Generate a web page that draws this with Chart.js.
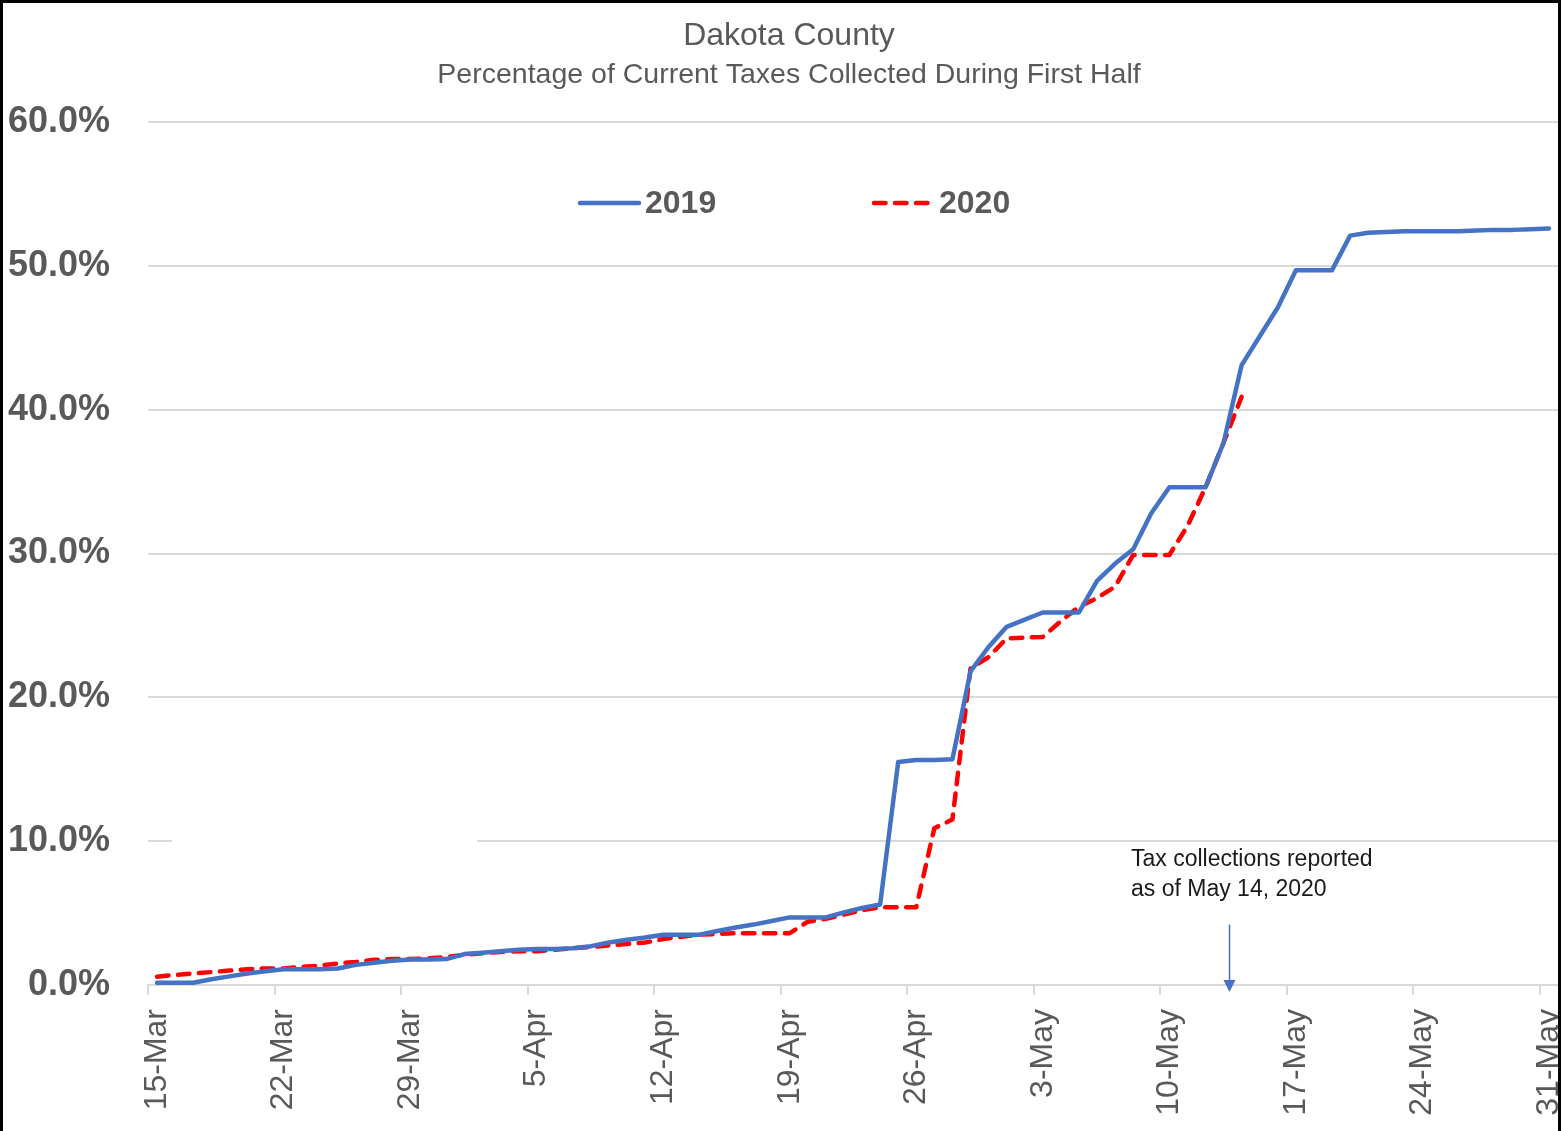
<!DOCTYPE html>
<html>
<head>
<meta charset="utf-8">
<script src="https://cdn.jsdelivr.net/npm/chart.js@4.4.1/dist/chart.umd.min.js"></script>
<style>
  body { margin: 0; background: #fff; }
  #wrap { position: relative; width: 1561px; height: 1131px; overflow: hidden; }
  #frame { position: absolute; left: 0; top: 0; width: 1561px; height: 1131px; box-sizing: border-box;
           border: 3px solid #000; border-bottom: none; pointer-events: none; }
</style>
</head>
<body>
<div id="wrap">
  <canvas id="myChart" width="1561" height="1131"></canvas>
  <div id="frame"></div>
</div>
<script>
// days from 15-Mar to 31-May
var days = [
    '15-Mar', '16-Mar', '17-Mar', '18-Mar', '19-Mar', '20-Mar', '21-Mar',
    '22-Mar', '23-Mar', '24-Mar', '25-Mar', '26-Mar', '27-Mar', '28-Mar',
    '29-Mar', '30-Mar', '31-Mar', '1-Apr', '2-Apr', '3-Apr', '4-Apr',
    '5-Apr', '6-Apr', '7-Apr', '8-Apr', '9-Apr', '10-Apr', '11-Apr',
    '12-Apr', '13-Apr', '14-Apr', '15-Apr', '16-Apr', '17-Apr', '18-Apr',
    '19-Apr', '20-Apr', '21-Apr', '22-Apr', '23-Apr', '24-Apr', '25-Apr',
    '26-Apr', '27-Apr', '28-Apr', '29-Apr', '30-Apr', '1-May', '2-May',
    '3-May', '4-May', '5-May', '6-May', '7-May', '8-May', '9-May',
    '10-May', '11-May', '12-May', '13-May', '14-May', '15-May', '16-May',
    '17-May', '18-May', '19-May', '20-May', '21-May', '22-May', '23-May',
    '24-May', '25-May', '26-May', '27-May', '28-May', '29-May', '30-May',
    '31-May'
];

var seriesNames = ['2019', '2020'];

// percent collected, 2019
var pct2019 = [
    0.16, 0.16, 0.16, 0.40, 0.60, 0.80, 0.95,
    1.10, 1.10, 1.10, 1.15, 1.40, 1.55, 1.68,
    1.78, 1.78, 1.80, 2.15, 2.25, 2.35, 2.45,
    2.50, 2.50, 2.55, 2.70, 2.95, 3.15, 3.30,
    3.50, 3.50, 3.50, 3.75, 4.00, 4.20, 4.45,
    4.70, 4.70, 4.70, 5.05, 5.35, 5.60, 15.50,
    15.65, 15.65, 15.70, 21.80, 23.50, 24.90, 25.40,
    25.90, 25.90, 25.90, 28.10, 29.30, 30.30, 32.80,
    34.60, 34.60, 34.60, 37.70, 43.10, 45.10, 47.10,
    49.70, 49.70, 49.70, 52.10, 52.30, 52.35, 52.40,
    52.40, 52.40, 52.40, 52.45, 52.50, 52.50, 52.55,
    52.60
];

// percent collected, 2020 (reported through May 14)
var pct2020 = [
    0.58, 0.70, 0.80, 0.90, 1.00, 1.10, 1.15,
    1.15, 1.25, 1.35, 1.50, 1.60, 1.75, 1.80,
    1.80, 1.85, 1.95, 2.10, 2.20, 2.30, 2.35,
    2.35, 2.45, 2.55, 2.65, 2.75, 2.85, 2.95,
    3.20, 3.35, 3.50, 3.55, 3.60, 3.60, 3.60,
    3.60, 4.40, 4.60, 4.90, 5.20, 5.40, 5.40,
    5.40, 10.90, 11.50, 22.00, 22.80, 24.10, 24.15,
    24.20, 25.30, 26.30, 26.90, 27.70, 29.90, 29.90,
    29.90, 31.90, 34.60, 37.70, 40.90
];

var yTicks = [0, 10, 20, 30, 40, 50, 60];
var noteLines = ['Tax collections reported', 'as of May 14, 2020'];

var FONT = "'Liberation Sans', Arial, sans-serif";
var GRAY = '#595959';
var GRID = '#d9d9d9';

// legend drawn over the plot, like the Excel one
var legendOverlay = {
    id: 'legendOverlay',
    afterLayout: function (chart) {
        // let the y labels use the space left of the padding
        chart.scales.y.left = 0;
    },
    afterDraw: function (chart) {
        var ctx = chart.ctx;
        var xs = [578, 872];
        var y = 203;
        ctx.save();
        chart.data.datasets.forEach(function (ds, i) {
            ctx.beginPath();
            ctx.lineWidth = 4.5;
            ctx.lineCap = 'round';
            ctx.strokeStyle = ds.borderColor;
            ctx.setLineDash(ds.borderDash || []);
            ctx.moveTo(xs[i] + 2, y);
            ctx.lineTo(xs[i] + 61, y);
            ctx.stroke();
            ctx.setLineDash([]);
            ctx.fillStyle = GRAY;
            ctx.font = 'bold 32px ' + FONT;
            ctx.textBaseline = 'middle';
            ctx.textAlign = 'left';
            ctx.fillText(ds.label, xs[i] + 67, y + 1);
        });
        ctx.restore();
    }
};

// note + arrow, and the white box that hides part of the 10% gridline
var noteOverlay = {
    id: 'noteOverlay',
    beforeDatasetsDraw: function (chart) {
        var ctx = chart.ctx;
        var y10 = chart.scales.y.getPixelForValue(10);
        ctx.save();
        ctx.fillStyle = '#fff';
        ctx.fillRect(172, y10 - 3, 305, 6);
        ctx.restore();
    },
    afterDraw: function (chart) {
        var ctx = chart.ctx;
        var xs = chart.scales.x, ys = chart.scales.y;
        var ax = Math.round(xs.getPixelForValue(59.3)) + 0.5;
        var top = ys.getPixelForValue(4.2);
        var tip = chart.chartArea.bottom + 7;
        ctx.save();
        ctx.strokeStyle = '#4472C4';
        ctx.fillStyle = '#4472C4';
        ctx.lineWidth = 1.5;
        ctx.beginPath();
        ctx.moveTo(ax, top);
        ctx.lineTo(ax, tip - 10);
        ctx.stroke();
        ctx.beginPath();
        ctx.moveTo(ax - 6, tip - 12);
        ctx.lineTo(ax + 6, tip - 12);
        ctx.lineTo(ax, tip);
        ctx.closePath();
        ctx.fill();

        ctx.fillStyle = '#1a1a1a';
        ctx.font = '23px ' + FONT;
        ctx.textAlign = 'left';
        ctx.textBaseline = 'middle';
        ctx.fillText(noteLines[0], 1131, 860);
        ctx.fillText(noteLines[1], 1131, 890);
        ctx.restore();
    }
};

var ctx = document.getElementById('myChart').getContext('2d');
var myChart = new Chart(ctx, {
    type: 'line',
    data: {
        labels: days,
        datasets: [{
            label: seriesNames[0],
            data: pct2019,
            borderColor: '#4472C4',
            backgroundColor: '#4472C4',
            borderWidth: 4.5,
            borderJoinStyle: 'round',
            borderCapStyle: 'round',
            pointRadius: 0,
            tension: 0
        }, {
            label: seriesNames[1],
            data: pct2020,
            borderColor: '#FF0000',
            backgroundColor: '#FF0000',
            borderWidth: 4.5,
            borderDash: [11.5, 9.5],
            borderJoinStyle: 'round',
            borderCapStyle: 'round',
            pointRadius: 0,
            tension: 0
        }]
    },
    options: {
        responsive: false,
        animation: false,
        layout: { padding: { left: 20, right: 3, top: 0, bottom: 0 } },
        plugins: {
            legend: { display: false },
            tooltip: { enabled: false },
            title: {
                display: true,
                text: 'Dakota County',
                color: GRAY,
                font: { family: FONT, size: 32, weight: 'normal' },
                padding: { top: 16.5, bottom: 0 }
            },
            subtitle: {
                display: true,
                text: 'Percentage of Current Taxes Collected During First Half',
                color: GRAY,
                font: { family: FONT, size: 28.5, weight: 'normal' },
                padding: { top: 3.4, bottom: 29.5 }
            }
        },
        scales: {
            x: {
                offset: true,
                grid: {
                    offset: true,
                    drawOnChartArea: false,
                    drawTicks: true,
                    tickLength: 10,
                    lineWidth: 2,
                    color: function (c) { return c.index % 7 === 0 ? GRID : 'rgba(0,0,0,0)'; },
                    tickColor: function (c) { return c.index % 7 === 0 ? GRID : 'rgba(0,0,0,0)'; }
                },
                border: { display: true, color: GRID, width: 2 },
                ticks: {
                    autoSkip: false,
                    minRotation: 90,
                    maxRotation: 90,
                    padding: 14,
                    color: GRAY,
                    font: { family: FONT, size: 32 },
                    callback: function (val, i) { return i % 7 === 0 ? days[i] : ''; }
                },
                afterFit: function (scale) {
                    scale.height = 146;
                    scale.paddingLeft = 0;
                    scale.paddingRight = 0;
                }
            },
            y: {
                min: yTicks[0],
                max: yTicks[yTicks.length - 1],
                afterBuildTicks: function (scale) {
                    scale.ticks = yTicks.map(function (v) { return { value: v }; });
                },
                grid: { color: GRID, lineWidth: 2, drawTicks: false },
                border: { display: false },
                ticks: {
                    padding: 38,
                    color: GRAY,
                    font: { family: FONT, size: 36, weight: 'bold' },
                    callback: function (v) { return v.toFixed(1) + '%'; }
                },
                afterFit: function (scale) {
                    scale.width = 128;
                }
            }
        }
    },
    plugins: [noteOverlay, legendOverlay]
});
</script>
</body>
</html>
